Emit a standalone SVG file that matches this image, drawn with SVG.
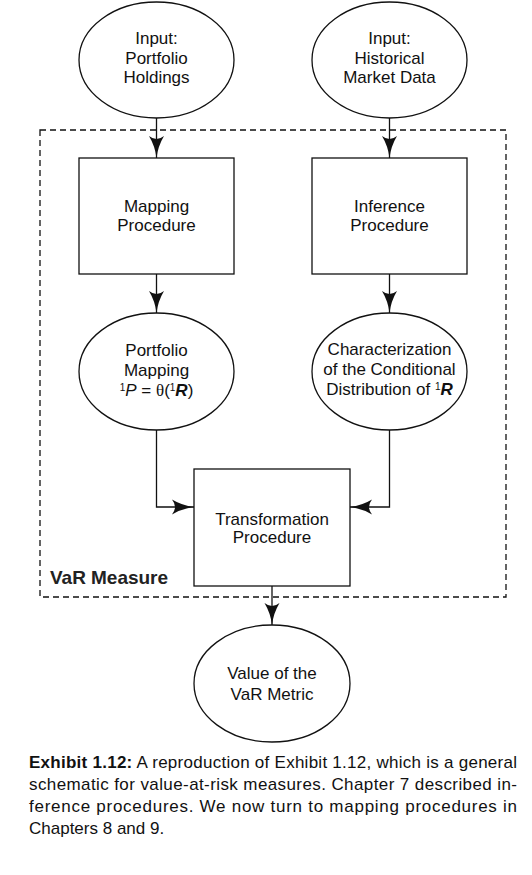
<svg xmlns="http://www.w3.org/2000/svg" width="532" height="875" viewBox="0 0 532 875">
<defs>
<marker id="ah" markerUnits="userSpaceOnUse" markerWidth="26" markerHeight="20" refX="22" refY="8" orient="auto">
<path d="M22,8 Q10,9.5 0,15.5 Q6,8 0,0.5 Q10,6.5 22,8 Z" fill="#111"/>
</marker>
<style>
.n{fill:#fff;stroke:#111;stroke-width:1.3}
.t{font-family:"Liberation Sans",Arial,sans-serif;font-size:17px;fill:#111;text-anchor:middle}
.c{fill:none;stroke:#111;stroke-width:1.3;marker-end:url(#ah)}
.cap{font-family:"Liberation Sans",Arial,sans-serif;font-size:17px;fill:#111}
</style>
</defs>
<rect width="532" height="875" fill="#fff"/>
<g id="var-measure">
<rect x="40" y="130" width="466" height="467" fill="none" stroke="#111" stroke-width="1.3" stroke-dasharray="6,4"/>
<text x="50" y="584" font-family="Liberation Sans,Arial,sans-serif" font-size="19" font-weight="bold" fill="#222" textLength="118" lengthAdjust="spacing">VaR Measure</text>
</g>
<g id="connectors">
<path class="c" d="M156.5,118 V158"/>
<path class="c" d="M389.5,118 V158"/>
<path class="c" d="M156.5,274 V313"/>
<path class="c" d="M389.5,274 V313"/>
<path class="c" d="M156.5,430 V507 H194"/>
<path class="c" d="M389.5,430 V507 H350"/>
<path class="c" d="M272,586 V625"/>
</g>
<g id="input-portfolio">
<ellipse class="n" cx="156.5" cy="60" rx="77.5" ry="58"/>
<text class="t" x="156.5" y="43.5">Input:</text>
<text class="t" x="156.5" y="63.5">Portfolio</text>
<text class="t" x="156.5" y="83">Holdings</text>
</g>
<g id="input-market">
<ellipse class="n" cx="389.5" cy="60" rx="77.5" ry="58"/>
<text class="t" x="389.5" y="43.5">Input:</text>
<text class="t" x="389.5" y="63.5">Historical</text>
<text class="t" x="389.5" y="83">Market Data</text>
</g>
<g id="mapping-procedure">
<rect class="n" x="79" y="158" width="155" height="116"/>
<text class="t" x="156.5" y="212">Mapping</text>
<text class="t" x="156.5" y="231">Procedure</text>
</g>
<g id="inference-procedure">
<rect class="n" x="312" y="158" width="155" height="116"/>
<text class="t" x="389.5" y="212">Inference</text>
<text class="t" x="389.5" y="231">Procedure</text>
</g>
<g id="portfolio-mapping">
<ellipse class="n" cx="156.5" cy="371.5" rx="77.5" ry="58.5"/>
<text class="t" x="156.5" y="356">Portfolio</text>
<text class="t" x="156.5" y="376">Mapping</text>
<text class="t" x="156.5" y="396"><tspan font-size="10" dy="-5">1</tspan><tspan font-style="italic" dy="5">P</tspan> = <tspan font-family="Liberation Serif,serif">θ</tspan>(<tspan font-size="10" dy="-5">1</tspan><tspan font-style="italic" font-weight="bold" dy="5">R</tspan>)</text>
</g>
<g id="conditional-distribution">
<ellipse class="n" cx="389.5" cy="371.5" rx="77.5" ry="58.5"/>
<text class="t" x="389.5" y="355">Characterization</text>
<text class="t" x="389.5" y="375">of the Conditional</text>
<text class="t" x="389.5" y="395">Distribution of <tspan font-size="10" dy="-5">1</tspan><tspan font-style="italic" font-weight="bold" dy="5">R</tspan></text>
</g>
<g id="transformation-procedure">
<rect class="n" x="194" y="469" width="156" height="117"/>
<text class="t" x="272" y="524.5">Transformation</text>
<text class="t" x="272" y="543">Procedure</text>
</g>
<g id="var-metric">
<ellipse class="n" cx="272" cy="683.5" rx="78" ry="58.5"/>
<text class="t" x="272" y="679">Value of the</text>
<text class="t" x="272" y="700">VaR Metric</text>
</g>
<g id="caption">
<text class="cap" x="29" y="768" textLength="488" lengthAdjust="spacing"><tspan font-weight="bold">Exhibit 1.12:</tspan> A reproduction of Exhibit 1.12, which is a general</text>
<text class="cap" x="29" y="790" textLength="488" lengthAdjust="spacing">schematic for value-at-risk measures. Chapter 7 described in-</text>
<text class="cap" x="29" y="812" textLength="488" lengthAdjust="spacing">ference procedures. We now turn to mapping procedures in</text>
<text class="cap" x="29" y="834">Chapters 8 and 9.</text>
</g>
</svg>
